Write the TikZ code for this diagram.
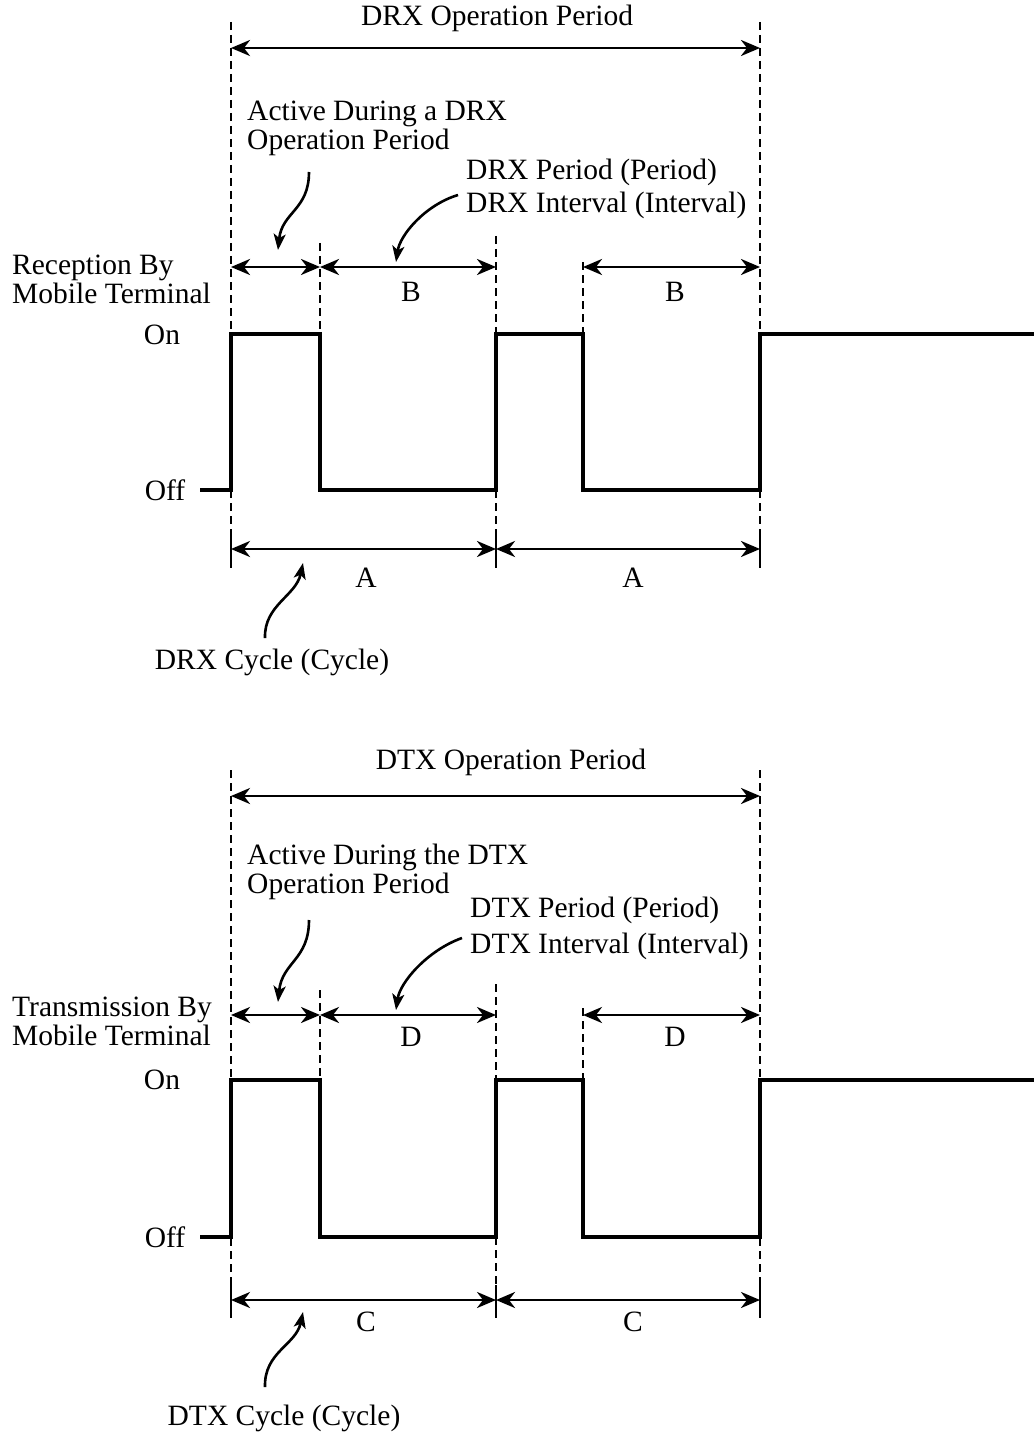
\documentclass[tikz,border=0pt]{standalone}
\usepackage{fontspec}
\setmainfont{Liberation Serif}
\usetikzlibrary{arrows.meta}
\begin{document}
\begin{tikzpicture}[x=1pt,y=-1pt,
  txt/.style={font=\fontsize{29.5}{29}\selectfont, inner sep=0pt},
  ltxt/.style={txt, anchor=west, align=left},
  guide/.style={line width=2.5pt, dash pattern=on 8pt off 5pt},
  dimarrow/.style={line width=2.8pt, {Stealth[length=19pt,width=16pt,inset=6pt]}-{Stealth[length=19pt,width=16pt,inset=6pt]}},
  ptr/.style={line width=2.6pt, -{Stealth[length=16pt,width=12pt,inset=4pt]}},
  wave/.style={line width=3.8pt, line join=miter},
  tickline/.style={line width=2.6pt}]
\useasboundingbox (0,0) rectangle (1034,1439);

% ================= Upper diagram (DRX) =================
\draw[guide] (231,22) -- (231,540);
\draw[guide] (760,22) -- (760,540);
\draw[guide] (320,243) -- (320,334);
\draw[guide] (496,236) -- (496,334);
\draw[guide] (496,490) -- (496,540);
\draw[guide] (583,262) -- (583,334);
\draw[tickline] (231,535) -- (231,568);
\draw[tickline] (496,535) -- (496,568);
\draw[tickline] (760,535) -- (760,568);

\coordinate (uL) at (231,48);  \coordinate (uR) at (760,48);
\coordinate (u1) at (231,267); \coordinate (u2) at (320,267);
\coordinate (u3) at (496,267); \coordinate (u4) at (583,267);
\coordinate (u5) at (760,267);
\coordinate (ua) at (231,549); \coordinate (ub) at (496,549);
\coordinate (uc) at (760,549);

\draw[dimarrow] (uL) -- (uR);
\draw[dimarrow] (u1) -- (u2);
\draw[dimarrow] (u2) -- (u3);
\draw[dimarrow] (u4) -- (u5);
\draw[dimarrow] (ua) -- (ub);
\draw[dimarrow] (ub) -- (uc);

\draw[wave] (200,490) -- (231,490) -- (231,334) -- (320,334) -- (320,490)
  -- (496,490) -- (496,334) -- (583,334) -- (583,490) -- (760,490)
  -- (760,334) -- (1034,334);

\node[txt] (uop) at (497,18) {DRX Operation Period};
\node[ltxt] (uact) at (247,128) {Active During a DRX\\Operation Period};
\node[ltxt] (uper) at (466,189) {DRX Period (Period)\\[4pt]DRX Interval (Interval)};
\node[ltxt] (urec) at (12,279) {Reception By\\Mobile Terminal};
\node[txt] (uon) at (162,335) {On};
\node[txt] (uoff) at (165,490) {Off};
\node[txt] (uB1) at (411,292) {B};
\node[txt] (uB2) at (675,292) {B};
\node[txt] (uA1) at (366,578) {A};
\node[txt] (uA2) at (633,578) {A};
\node[txt] (ucyc) at (272,662) {DRX Cycle (Cycle)};

\coordinate (pa0) at (309,172); \coordinate (pa1) at (278,250);
\coordinate (pb0) at (458,195); \coordinate (pb1) at (396,262);
\coordinate (pc0) at (265,638); \coordinate (pc1) at (303,563);
\draw[ptr] (pa0) .. controls (309,210) and (282,212) .. (pa1);
\draw[ptr] (pb0) .. controls (425,205) and (400,235) .. (pb1);
\draw[ptr] (pc0) .. controls (264,605) and (296,596) .. (pc1);

% ================= Lower diagram (DTX) =================
\draw[guide] (231,770) -- (231,1290);
\draw[guide] (760,770) -- (760,1290);
\draw[guide] (320,990) -- (320,1080);
\draw[guide] (496,984) -- (496,1080);
\draw[guide] (496,1237) -- (496,1290);
\draw[guide] (583,1008) -- (583,1080);
\draw[tickline] (231,1285) -- (231,1318);
\draw[tickline] (496,1285) -- (496,1318);
\draw[tickline] (760,1285) -- (760,1318);

\coordinate (lL) at (231,796);  \coordinate (lR) at (760,796);
\coordinate (l1) at (231,1015); \coordinate (l2) at (320,1015);
\coordinate (l3) at (496,1015); \coordinate (l4) at (583,1015);
\coordinate (l5) at (760,1015);
\coordinate (la) at (231,1300); \coordinate (lb) at (496,1300);
\coordinate (lc) at (760,1300);

\draw[dimarrow] (lL) -- (lR);
\draw[dimarrow] (l1) -- (l2);
\draw[dimarrow] (l2) -- (l3);
\draw[dimarrow] (l4) -- (l5);
\draw[dimarrow] (la) -- (lb);
\draw[dimarrow] (lb) -- (lc);

\draw[wave] (200,1237) -- (231,1237) -- (231,1080) -- (320,1080) -- (320,1237)
  -- (496,1237) -- (496,1080) -- (583,1080) -- (583,1237) -- (760,1237)
  -- (760,1080) -- (1034,1080);

\node[txt] (lop) at (511,762) {DTX Operation Period};
\node[ltxt] (lact) at (247,872) {Active During the DTX\\Operation Period};
\node[ltxt] (lper) at (470,928) {DTX Period (Period)\\[7pt]DTX Interval (Interval)};
\node[ltxt] (ltra) at (12,1021) {Transmission By\\Mobile Terminal};
\node[txt] (lon) at (162,1080) {On};
\node[txt] (loff) at (165,1237) {Off};
\node[txt] (lD1) at (411,1037) {D};
\node[txt] (lD2) at (675,1037) {D};
\node[txt] (lC1) at (366,1322) {C};
\node[txt] (lC2) at (633,1322) {C};
\node[txt] (lcyc) at (284,1418) {DTX Cycle (Cycle)};

\coordinate (qa0) at (309,920); \coordinate (qa1) at (278,1002);
\coordinate (qb0) at (462,938); \coordinate (qb1) at (396,1010);
\coordinate (qc0) at (265,1387); \coordinate (qc1) at (303,1312);
\draw[ptr] (qa0) .. controls (309,960) and (282,962) .. (qa1);
\draw[ptr] (qb0) .. controls (428,950) and (400,982) .. (qb1);
\draw[ptr] (qc0) .. controls (264,1352) and (296,1345) .. (qc1);
\end{tikzpicture}
\end{document}
